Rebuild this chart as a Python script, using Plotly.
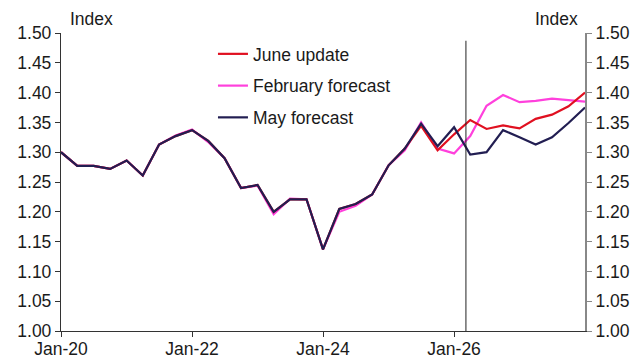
import plotly.graph_objects as go
import pandas as pd

dates = pd.date_range("2020-01-01", "2028-01-01", freq="QS").strftime("%Y-%m-%d").tolist()

june_update = [1.300, 1.277, 1.277, 1.272, 1.286, 1.261, 1.313, 1.327, 1.337, 1.319,
               1.290, 1.240, 1.245, 1.200, 1.221, 1.221, 1.137, 1.205, 1.213, 1.229,
               1.278, 1.306, 1.344, 1.303, 1.330, 1.354, 1.339, 1.345, 1.340, 1.356,
               1.363, 1.377, 1.400]
february_forecast = [1.300, 1.277, 1.277, 1.272, 1.286, 1.261, 1.313, 1.328, 1.338, 1.317,
                     1.290, 1.240, 1.244, 1.196, 1.222, 1.221, 1.137, 1.200, 1.210, 1.229,
                     1.278, 1.303, 1.350, 1.306, 1.298, 1.327, 1.378, 1.396, 1.384, 1.386,
                     1.390, 1.388, 1.385]
may_forecast = [1.300, 1.277, 1.277, 1.272, 1.286, 1.261, 1.313, 1.327, 1.337, 1.319,
                1.290, 1.240, 1.245, 1.200, 1.221, 1.221, 1.137, 1.205, 1.213, 1.229,
                1.278, 1.306, 1.348, 1.310, 1.342, 1.296, 1.300, 1.337, 1.325, 1.313,
                1.325, 1.349, 1.375]

tick_dates = ["2020-01-01", "2022-01-01", "2024-01-01", "2026-01-01"]
tick_labels = ["Jan-20", "Jan-22", "Jan-24", "Jan-26"]
y_ticks = [1.00, 1.05, 1.10, 1.15, 1.20, 1.25, 1.30, 1.35, 1.40, 1.45, 1.50]
forecast_start = "2026-03-08"

RED = "#E01020"
PINK = "#FF40DC"
NAVY = "#221E52"
FONT = "Liberation Sans, Arial, sans-serif"
TXT = "#1a1a1a"
FS = 17.5

fig = go.Figure()
fig.add_trace(go.Scatter(x=dates, y=february_forecast, mode="lines", name="February forecast",
                         line=dict(color=PINK, width=2.2), legendrank=2, legendgroup="b"))
fig.add_trace(go.Scatter(x=dates, y=june_update, mode="lines", name="June update",
                         line=dict(color=RED, width=2.2), legendrank=1, legendgroup="a"))
fig.add_trace(go.Scatter(x=dates, y=may_forecast, mode="lines", name="May forecast",
                         line=dict(color=NAVY, width=2.2), legendrank=3, legendgroup="c"))
# invisible trace to anchor the right axis
fig.add_trace(go.Scatter(x=dates, y=may_forecast, yaxis="y2", mode="lines",
                         line=dict(width=0), opacity=0, showlegend=False, hoverinfo="skip"))

fig.add_shape(type="line", xref="x", yref="y", x0=forecast_start, x1=forecast_start,
              y0=1.0, y1=1.487, line=dict(color="#222222", width=1))

fig.add_annotation(text="Index", xref="paper", yref="paper", x=0.013, y=1.0, yshift=2,
                   xanchor="left", yanchor="bottom", showarrow=False,
                   font=dict(family=FONT, size=FS, color=TXT))
fig.add_annotation(text="Index", xref="paper", yref="paper", x=0.99, y=1.0, yshift=2,
                   xanchor="right", yanchor="bottom", showarrow=False,
                   font=dict(family=FONT, size=FS, color=TXT))

fig.update_layout(
    width=636, height=360,
    margin=dict(l=61, r=50.5, t=32.5, b=29),
    paper_bgcolor="white", plot_bgcolor="white",
    font=dict(family=FONT, size=FS, color=TXT),
    showlegend=True,
    legend=dict(x=0.29, y=0.99, xanchor="left", yanchor="top", bgcolor="rgba(0,0,0,0)",
                font=dict(family=FONT, size=FS, color=TXT), tracegroupgap=6,
                itemwidth=30),
    xaxis=dict(type="date", range=["2020-01-01", "2028-01-01"], tickvals=tick_dates,
               ticktext=tick_labels, showgrid=False, zeroline=False, showline=True,
               linecolor="#333333", linewidth=1.3, ticks="outside", ticklen=5,
               tickcolor="#333333", automargin=False, ticklabelstandoff=-3,
               tickfont=dict(family=FONT, size=FS, color=TXT)),
    yaxis=dict(range=[1.0, 1.5], tickvals=y_ticks, tickformat=".2f", showgrid=False,
               zeroline=False, showline=True, linecolor="#333333", linewidth=1.3,
               ticks="outside", ticklen=5, tickcolor="#333333", automargin=False,
               tickfont=dict(family=FONT, size=FS, color=TXT)),
    yaxis2=dict(range=[1.0, 1.5], tickvals=y_ticks, tickformat=".2f", overlaying="y",
                side="right", showgrid=False, zeroline=False, showline=True,
                linecolor="#888888", linewidth=2, ticks="outside", ticklen=5,
                tickcolor="#888888", automargin=False,
                tickfont=dict(family=FONT, size=FS, color=TXT)),
)

fig.write_html("out.html")
